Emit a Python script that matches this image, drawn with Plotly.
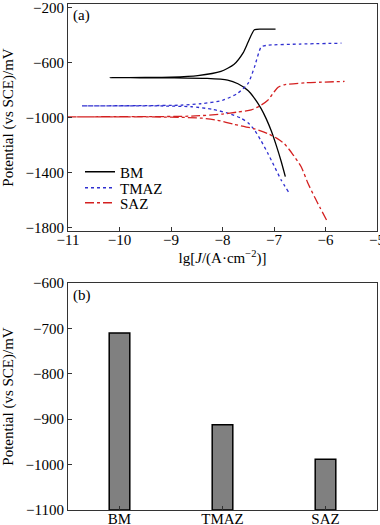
import plotly.graph_objects as go

# ---- Data: polarization curves (lg J, potential mV) ----
bm_lgj = [-6.78, -6.86, -6.95, -7.05, -7.15, -7.25, -7.4, -7.5, -7.7, -7.9, -8.3, -9.0, -9.6, -10.18,
          -9.5, -9.0, -8.48, -8.03, -7.78, -7.6, -7.5, -7.38, -7.2, -6.97]
bm_e = [-1430, -1320, -1210, -1100, -1010, -935, -850, -805, -755, -728, -716, -712, -711, -710,
        -709, -706, -695, -665, -615, -530, -450, -362, -358, -357]

tmaz_lgj = [-6.72, -6.86, -7.0, -7.12, -7.25, -7.38, -7.5, -7.64, -7.9, -8.2, -8.6, -9.2, -10.0, -10.73,
            -9.5, -8.8, -8.42, -8.0, -7.7, -7.5, -7.38, -7.25, -7.15, -6.5, -5.69]
tmaz_e = [-1540, -1455, -1350, -1260, -1170, -1090, -1040, -1005, -968, -940, -922, -916, -915, -915,
          -914, -910, -900, -875, -823, -750, -634, -488, -476, -466, -460]

saz_lgj = [-5.98, -6.1, -6.21, -6.35, -6.47, -6.65, -6.8, -6.95, -7.12, -7.4, -7.77, -8.1, -8.4, -9.0, -10.0, -11.0,
           -9.5, -8.6, -8.0, -7.7, -7.44, -7.25, -7.12, -7.0, -6.92, -6.8, -6.4, -5.63]
saz_e = [-1745, -1660, -1580, -1470, -1360, -1260, -1190, -1150, -1117, -1080, -1050, -1020, -1005, -997, -995, -995,
         -994, -990, -975, -960, -945, -910, -875, -815, -780, -762, -748, -738]

# ---- Data: corrosion potentials ----
zones = ["BM", "TMAZ", "SAZ"]
ecorr = [-710, -912, -988]
bar_base = -1100

x_ticks = [-11, -10, -9, -8, -7, -6, -5]
y_ticks_a = [-200, -600, -1000, -1400, -1800]
y_ticks_b = [-600, -700, -800, -900, -1000, -1100]

FONT = "Liberation Serif"
FS = 15
W, H = 380, 525

fig = go.Figure()
fig.add_trace(go.Scatter(x=bm_lgj, y=bm_e, mode="lines", name="BM", legend="legend",
                         line=dict(color="black", width=1.3, shape="spline", smoothing=0.6),
                         xaxis="x", yaxis="y"))
fig.add_trace(go.Scatter(x=tmaz_lgj, y=tmaz_e, mode="lines", name="TMAZ", legend="legend2",
                         line=dict(color="#2f2fd0", width=1.3, dash="dot", shape="spline", smoothing=0.6),
                         xaxis="x", yaxis="y"))
fig.add_trace(go.Scatter(x=saz_lgj, y=saz_e, mode="lines", name="SAZ", legend="legend3",
                         line=dict(color="#d42020", width=1.3, dash="dashdot", shape="spline", smoothing=0.6),
                         xaxis="x", yaxis="y"))

fig.add_trace(go.Bar(x=zones, y=[v - bar_base for v in ecorr], base=bar_base, width=0.2,
                     marker=dict(color="#808080", line=dict(color="black", width=1.5)),
                     showlegend=False, xaxis="x2", yaxis="y2"))

axis_common = dict(showline=True, mirror=True, linecolor="#333", linewidth=1.2, automargin=False,
                   ticks="inside", ticklen=4, tickcolor="#333", showgrid=False, zeroline=False,
                   ticklabeloverflow="allow",
                   tickfont=dict(family=FONT, size=FS, color="black"))

xd = [68 / W, 377 / W]
ytitle = "Potential (vs SCE)/mV"
leg_common = dict(xanchor="left", yanchor="middle", bgcolor="rgba(0,0,0,0)",
                  font=dict(family=FONT, size=FS), itemwidth=30, borderwidth=0)
LX = 80 / W
fig.update_layout(
    width=W, height=H,
    margin=dict(l=0, r=0, t=0, b=0),
    paper_bgcolor="white", plot_bgcolor="white",
    font=dict(family=FONT, size=FS, color="black"),
    xaxis=dict(domain=xd, range=[-11, -5], tickvals=x_ticks, anchor="y", ticklabelstandoff=-5,
               title=dict(text="lg[<i>J</i>/(A·cm<sup>−2</sup>)]", standoff=0,
                          font=dict(family=FONT, size=FS)), **axis_common),
    yaxis=dict(domain=[1 - 231 / H, 1 - 4 / H], range=[-1825, -175], tickvals=y_ticks_a, anchor="x",
               title=dict(text=ytitle, standoff=8, font=dict(family=FONT, size=FS)),
               **axis_common),
    xaxis2=dict(domain=xd, range=[-0.5, 2.5], anchor="y2", type="category", ticklabelstandoff=-5,
                **axis_common),
    yaxis2=dict(domain=[1 - 510 / H, 1 - 283 / H], range=[-1100, -600], tickvals=y_ticks_b, anchor="x2",
                title=dict(text=ytitle, standoff=8, font=dict(family=FONT, size=FS)),
                **axis_common),
    legend=dict(x=LX, y=1 - 172 / H, **leg_common),
    legend2=dict(x=LX, y=1 - 188 / H, **leg_common),
    legend3=dict(x=LX, y=1 - 203 / H, **leg_common),
    showlegend=True,
    annotations=[
        dict(text="(a)", x=71 / W, y=1 - 15 / H, xref="paper", yref="paper", xanchor="left", yanchor="middle",
             showarrow=False, font=dict(family=FONT, size=FS)),
        dict(text="(b)", x=71 / W, y=1 - 295 / H, xref="paper", yref="paper", xanchor="left", yanchor="middle",
             showarrow=False, font=dict(family=FONT, size=FS)),
    ],
)

fig.write_html("out.html", config={"displayModeBar": False},
               post_script="document.body.style.margin='0';document.body.style.padding='0';")
